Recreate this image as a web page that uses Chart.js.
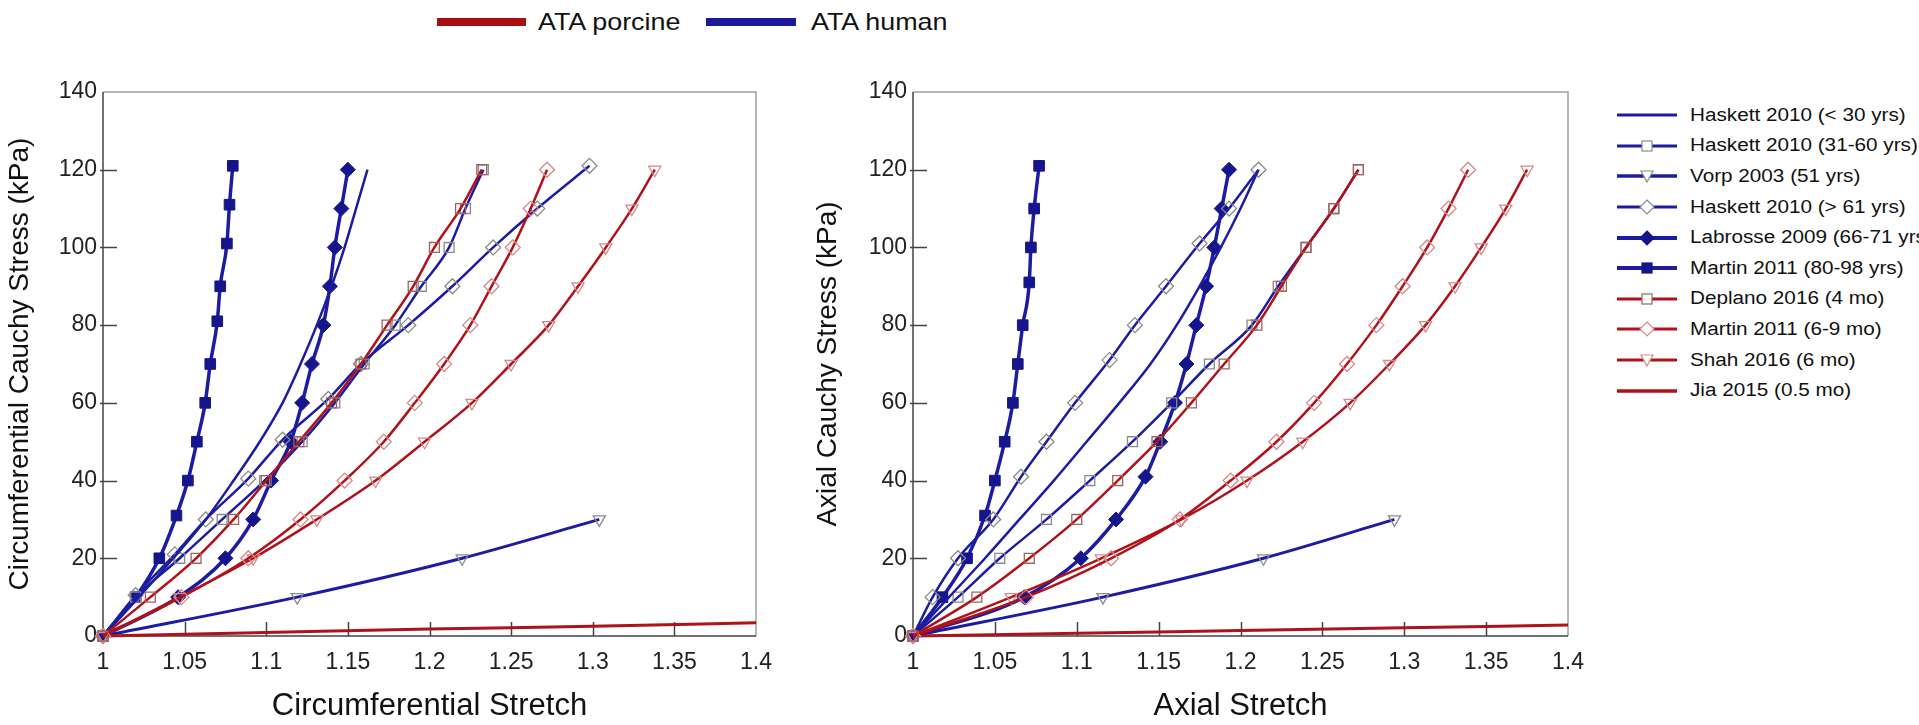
<!DOCTYPE html>
<html>
<head>
<meta charset="utf-8">
<title>ATA stress-stretch</title>
<script src="https://cdn.jsdelivr.net/npm/chart.js@4.4.0/dist/chart.umd.min.js"></script>
<style>
  html, body { margin: 0; padding: 0; background: #fff; }
  body { width: 1919px; height: 725px; position: relative; overflow: hidden;
         font-family: "Liberation Sans", Arial, sans-serif; color: #111; }
  canvas { position: absolute; top: 0; }
  #circChart { left: 0; }
  #axChart { left: 800px; }
  .bar { position: absolute; top: 18px; height: 8px; }
  .toplab { position: absolute; top: 6px; font-size: 24px; line-height: 32px;
            transform: scaleX(1.12); transform-origin: left center; }
  #legend { position: absolute; left: 1615px; top: 100px; }
  .row { height: 30.6px; display: flex; align-items: center; font-size: 18px; white-space: nowrap; }
  .row svg { width: 64px; height: 22px; margin-right: 11px; flex: none; }
  .row span { display: inline-block; transform: scaleX(1.15); transform-origin: left center; }
</style>
</head>
<body>
<div class="bar" style="left:437px;width:89px;background:#a80f14"></div>
<span class="toplab" style="left:538px">ATA porcine</span>
<div class="bar" style="left:706px;width:90px;background:#1a1a9c"></div>
<span class="toplab" style="left:811px">ATA human</span>

<canvas id="circChart" width="800" height="725"></canvas>
<canvas id="axChart" width="800" height="725"></canvas>
<div id="legend"></div>

<script>
// ---- axes ----
const xTicks = [1, 1.05, 1.1, 1.15, 1.2, 1.25, 1.3, 1.35, 1.4];
const yTicks = [0, 20, 40, 60, 80, 100, 120, 140];

// ---- series names (legend order) ----
const seriesNames = [
    'Haskett 2010 (< 30 yrs)',
    'Haskett 2010 (31-60 yrs)',
    'Vorp 2003 (51 yrs)',
    'Haskett 2010 (> 61 yrs)',
    'Labrosse 2009 (66-71 yrs)',
    'Martin 2011 (80-98 yrs)',
    'Deplano 2016 (4 mo)',
    'Martin 2011 (6-9 mo)',
    'Shah 2016 (6 mo)',
    'Jia 2015 (0.5 mo)'
];

// ---- stress values (kPa) ----
const stressLevels = [0, 10, 20, 30, 40, 50, 60, 70, 80, 90, 100, 110, 120];
const circHaskettOldStress = [0, 10.5, 21, 30, 40.5, 50.5, 61, 70, 80, 90, 100, 110, 121];
const axHaskettOldStress = [0, 10, 20, 30, 41, 50, 60, 71, 80, 90, 101, 110, 120];
const axLabrosseStress = [0, 10, 20, 30, 41, 50, 60, 70, 80, 90, 100, 110, 120];
const circMartinOldStress = [0, 10, 20, 31, 40, 50, 60, 70, 81, 90, 101, 111, 121];
const axMartinOldStress = [0, 10, 20, 31, 40, 50, 60, 70, 80, 91, 100, 110, 121];
const vorpStress = [0, 10, 20, 30];
const jiaStretch = [1, 1.1, 1.2, 1.3, 1.4];
const jiaCircStress = [0, 0.9, 1.8, 2.5, 3.4];
const jiaAxStress = [0, 0.7, 1.4, 2.1, 2.8];

// ---- circumferential stretch ----
const circHaskettYoung = [1, 1.022, 1.043, 1.063, 1.08, 1.096, 1.11, 1.121, 1.131, 1.14, 1.148, 1.155, 1.162];
const circHaskettMid   = [1, 1.02, 1.047, 1.073, 1.099, 1.122, 1.142, 1.16, 1.179, 1.195, 1.212, 1.222, 1.233];
const circVorp         = [1, 1.119, 1.22, 1.304];
const circHaskettOld   = [1, 1.02, 1.044, 1.063, 1.089, 1.11, 1.138, 1.158, 1.187, 1.214, 1.239, 1.266, 1.298];
const circLabrosse     = [1, 1.046, 1.075, 1.092, 1.103, 1.115, 1.122, 1.128, 1.135, 1.139, 1.142, 1.146, 1.15];
const circMartinOld    = [1, 1.02, 1.0345, 1.045, 1.052, 1.0575, 1.0626, 1.0657, 1.07, 1.0718, 1.0759, 1.0775, 1.0795];
const circDeplano      = [1, 1.029, 1.057, 1.08, 1.1, 1.12, 1.14, 1.158, 1.174, 1.19, 1.203, 1.219, 1.232];
const circMartinYoung  = [1, 1.048, 1.089, 1.121, 1.148, 1.172, 1.191, 1.209, 1.225, 1.238, 1.251, 1.262, 1.272];
const circShah         = [1, 1.047, 1.092, 1.131, 1.167, 1.197, 1.226, 1.25, 1.273, 1.291, 1.308, 1.324, 1.338];

// ---- axial stretch ----
const axHaskettYoung = [1, 1.022, 1.044, 1.065, 1.086, 1.106, 1.126, 1.145, 1.161, 1.175, 1.188, 1.2, 1.211];
const axHaskettMid   = [1, 1.0275, 1.053, 1.0815, 1.108, 1.134, 1.158, 1.181, 1.207, 1.223, 1.24, 1.257, 1.272];
const axVorp         = [1, 1.116, 1.214, 1.294];
const axHaskettOld   = [1, 1.012, 1.0275, 1.049, 1.066, 1.0815, 1.099, 1.12, 1.1355, 1.1545, 1.175, 1.193, 1.211];
const axLabrosse     = [1, 1.068, 1.1025, 1.124, 1.142, 1.151, 1.16, 1.167, 1.173, 1.179, 1.184, 1.1885, 1.193];
const axMartinOld    = [1, 1.018, 1.033, 1.044, 1.05, 1.056, 1.061, 1.064, 1.067, 1.071, 1.072, 1.074, 1.077];
const axDeplano      = [1, 1.039, 1.071, 1.1, 1.125, 1.149, 1.17, 1.19, 1.21, 1.225, 1.24, 1.257, 1.272];
const axMartinYoung  = [1, 1.069, 1.121, 1.163, 1.194, 1.222, 1.245, 1.265, 1.283, 1.299, 1.314, 1.327, 1.339];
const axShah         = [1, 1.06, 1.115, 1.164, 1.204, 1.238, 1.267, 1.291, 1.313, 1.331, 1.347, 1.362, 1.375];

// ---- styles ----
const BLUE = '#1c1ca2';
const NAVY = '#15158c';
const RED = '#b0121a';
const GRAYMK = '#8a8a8a';
const BROWNMK = '#a0625c';
const PINKMK = '#d88888';

// one style per series, same order as seriesNames
const seriesStyles = [
    { color: BLUE, width: 2.5, marker: null },
    { color: BLUE, width: 2.5, marker: 'rect',    mk: GRAYMK,  fill: false, r: 7 },
    { color: BLUE, width: 3,   marker: 'tri',     mk: GRAYMK,  fill: false, r: 7 },
    { color: BLUE, width: 2.5, marker: 'diamond', mk: GRAYMK,  fill: false, r: 7.5 },
    { color: BLUE, width: 3.5, marker: 'diamond', mk: NAVY,    fill: true,  r: 7.5 },
    { color: BLUE, width: 3.5, marker: 'rect',    mk: NAVY,    fill: true,  r: 7.5 },
    { color: RED,  width: 2.5, marker: 'rect',    mk: BROWNMK, fill: false, r: 7 },
    { color: RED,  width: 2.5, marker: 'diamond', mk: PINKMK,  fill: false, r: 7.5 },
    { color: RED,  width: 2.5, marker: 'tri',     mk: PINKMK,  fill: false, r: 7 },
    { color: RED,  width: 3,   marker: null }
];

function pts(xs, ys) {
    return xs.map((x, i) => ({ x: x, y: ys[i] }));
}

function makeDataset(i, data) {
    const s = seriesStyles[i];
    const ds = {
        label: seriesNames[i],
        data: data,
        borderColor: s.color,
        borderWidth: s.width,
        cubicInterpolationMode: 'monotone',
        clip: false,
        order: s.color === RED ? 0 : 1,
        pointRadius: 0,
        pointHoverRadius: 0
    };
    if (s.marker) {
        ds.pointStyle = s.marker === 'rect' ? 'rect' : s.marker === 'tri' ? 'triangle' : 'rectRot';
        ds.pointRotation = s.marker === 'tri' ? 180 : 0;
        ds.pointRadius = s.r;
        ds.pointBorderColor = s.mk;
        ds.pointBorderWidth = s.fill ? 1 : 1.3;
        ds.pointBackgroundColor = s.fill ? s.mk : 'rgba(255,255,255,0)';
    }
    return ds;
}

const circSets = [
    pts(circHaskettYoung, stressLevels),
    pts(circHaskettMid, stressLevels),
    pts(circVorp, vorpStress),
    pts(circHaskettOld, circHaskettOldStress),
    pts(circLabrosse, stressLevels),
    pts(circMartinOld, circMartinOldStress),
    pts(circDeplano, stressLevels),
    pts(circMartinYoung, stressLevels),
    pts(circShah, stressLevels),
    pts(jiaStretch, jiaCircStress)
];

const axSets = [
    pts(axHaskettYoung, stressLevels),
    pts(axHaskettMid, stressLevels),
    pts(axVorp, vorpStress),
    pts(axHaskettOld, axHaskettOldStress),
    pts(axLabrosse, axLabrosseStress),
    pts(axMartinOld, axMartinOldStress),
    pts(axDeplano, stressLevels),
    pts(axMartinYoung, stressLevels),
    pts(axShah, stressLevels),
    pts(jiaStretch, jiaAxStress)
];

// box round the plot and tick marks pointing inwards
const framePlugin = {
    id: 'frame',
    beforeDatasetsDraw(chart) {
        const { ctx, chartArea: a, scales } = chart;
        ctx.save();
        ctx.lineWidth = 1.5;
        ctx.strokeStyle = '#a0a0a0';
        ctx.beginPath();
        ctx.moveTo(a.left, a.top);
        ctx.lineTo(a.right, a.top);
        ctx.lineTo(a.right, a.bottom);
        ctx.stroke();
        ctx.strokeStyle = '#444';
        ctx.beginPath();
        ctx.moveTo(a.left, a.top);
        ctx.lineTo(a.left, a.bottom);
        ctx.lineTo(a.right, a.bottom);
        xTicks.slice(1, -1).forEach(v => {
            const px = Math.round(scales.x.getPixelForValue(v)) + 0.5;
            ctx.moveTo(px, a.bottom);
            ctx.lineTo(px, a.bottom - 14);
        });
        yTicks.slice(1, -1).forEach(v => {
            const py = Math.round(scales.y.getPixelForValue(v)) + 0.5;
            ctx.moveTo(a.left - 3, py);
            ctx.lineTo(a.left + 14, py);
        });
        ctx.stroke();
        ctx.restore();
    }
};

const tickFont = { family: '"Liberation Sans", Arial, sans-serif', size: 23 };
const xTitleFont = { family: '"Liberation Sans", Arial, sans-serif', size: 31 };
const yTitleFont = { family: '"Liberation Sans", Arial, sans-serif', size: 28 };

function makeChart(id, sets, xTitle, yTitle, yAxisWidth, yTitlePad, rightPad) {
    const ctx = document.getElementById(id).getContext('2d');
    return new Chart(ctx, {
        type: 'line',
        data: {
            datasets: sets.map((d, i) => makeDataset(i, d))
        },
        options: {
            responsive: false,
            animation: false,
            events: [],
            layout: { padding: { left: 0, top: 92, right: rightPad, bottom: 0 } },
            plugins: {
                legend: { display: false },
                tooltip: { enabled: false }
            },
            scales: {
                x: {
                    type: 'linear',
                    min: 1,
                    max: 1.4,
                    afterBuildTicks: s => { s.ticks = xTicks.map(v => ({ value: v })); },
                    afterFit: s => { s.height = 89; },
                    grid: { display: false, drawTicks: false },
                    border: { display: false },
                    ticks: {
                        autoSkip: false,
                        maxRotation: 0,
                        padding: 13,
                        color: '#222',
                        font: tickFont,
                        callback: v => String(+Number(v).toFixed(2))
                    },
                    title: {
                        display: true,
                        text: xTitle,
                        color: '#111',
                        font: xTitleFont,
                        padding: { top: 0, bottom: 0 }
                    }
                },
                y: {
                    type: 'linear',
                    min: 0,
                    max: 140,
                    afterBuildTicks: s => { s.ticks = yTicks.map(v => ({ value: v })); },
                    afterFit: s => { s.width = yAxisWidth; },
                    grid: { display: false, drawTicks: false },
                    border: { display: false },
                    ticks: {
                        padding: 6,
                        color: '#222',
                        font: tickFont,
                        callback: v => String(v)
                    },
                    title: {
                        display: true,
                        text: yTitle,
                        color: '#111',
                        font: yTitleFont,
                        padding: { top: yTitlePad, bottom: 0 }
                    }
                }
            }
        },
        plugins: [framePlugin]
    });
}

makeChart('circChart', circSets, 'Circumferential Stretch', 'Circumferential Cauchy Stress (kPa)', 103, 3, 44);
makeChart('axChart', axSets, 'Axial Stretch', 'Axial Cauchy Stress (kPa)', 113, 11, 32);

// side legend: line with a marker in the middle
function markerSvg(s) {
    let line = '<line x1="2" y1="11" x2="62" y2="11" stroke="' + s.color + '" stroke-width="' + (s.width + 0.5) + '"/>';
    if (!s.marker) return line;
    const fill = s.fill ? s.mk : 'white';
    let m = '';
    if (s.marker === 'rect') {
        m = '<rect x="27" y="6" width="10" height="10" fill="' + fill + '" stroke="' + s.mk + '" stroke-width="1.2"/>';
    } else if (s.marker === 'diamond') {
        m = '<polygon points="32,4 39,11 32,18 25,11" fill="' + fill + '" stroke="' + s.mk + '" stroke-width="1.2"/>';
    } else {
        m = '<polygon points="26,6 38,6 32,17" fill="' + fill + '" stroke="' + s.mk + '" stroke-width="1.2"/>';
    }
    return line + m;
}

const legendBox = document.getElementById('legend');
seriesNames.forEach((name, i) => {
    const row = document.createElement('div');
    row.className = 'row';
    row.innerHTML = '<svg viewBox="0 0 64 22">' + markerSvg(seriesStyles[i]) + '</svg>';
    const span = document.createElement('span');
    span.textContent = name;
    row.appendChild(span);
    legendBox.appendChild(row);
});
</script>
</body>
</html>
